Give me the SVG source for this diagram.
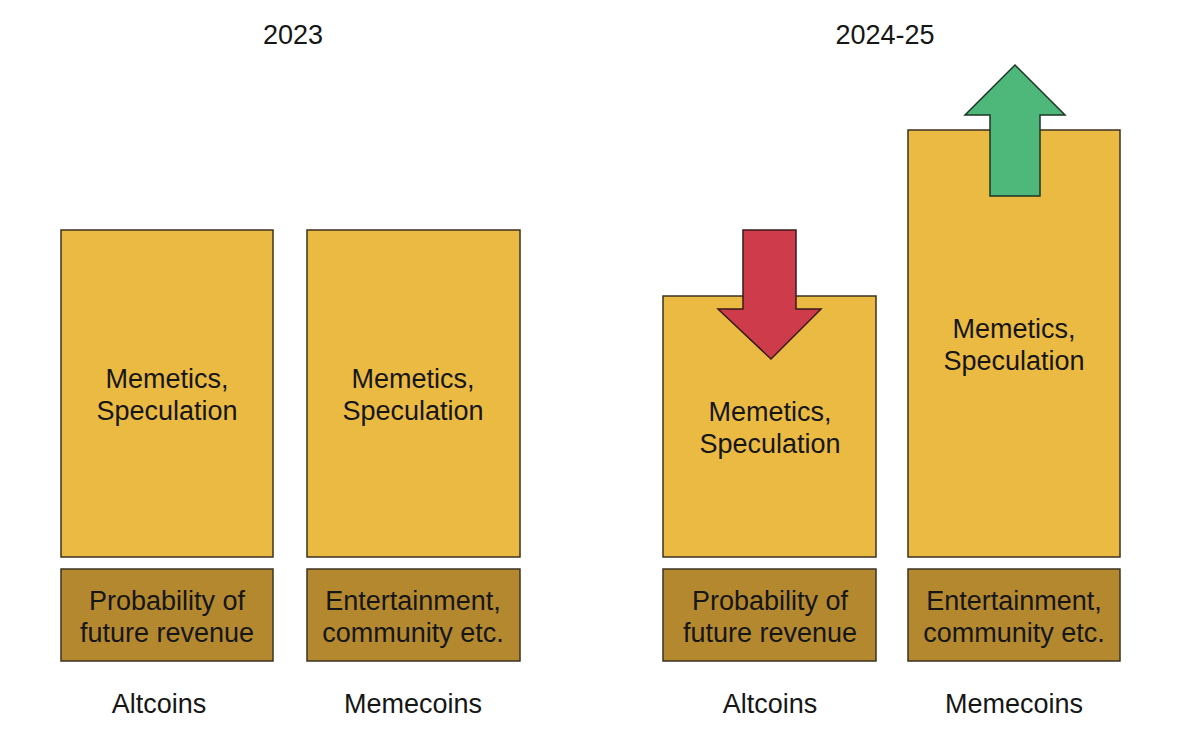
<svg xmlns="http://www.w3.org/2000/svg" width="1200" height="749" viewBox="0 0 1200 749">
<style>
.top{fill:#EBBA43;stroke:#3d3220;stroke-width:1.5}
.bot{fill:#B4882F;stroke:#3d3220;stroke-width:1.5}
text{font-family:"Liberation Sans",Arial,sans-serif;fill:#161616;text-anchor:middle}
.lbl{font-size:27px}
.hd{font-size:27px}
.red{fill:#CE3B4B;stroke:#3a1a1a;stroke-width:1.5;stroke-linejoin:miter}
.green{fill:#4DB879;stroke:#1d3524;stroke-width:1.5}
</style>
<rect width="1200" height="749" fill="#ffffff"/>
<text class="hd" x="293" y="44">2023</text>
<text class="hd" x="885" y="44">2024-25</text>
<g id="alt2023">
<rect class="top" x="61" y="230" width="212" height="327"/>
<text class="lbl" x="167" y="388">Memetics,</text>
<text class="lbl" x="167" y="420">Speculation</text>
<rect class="bot" x="61" y="569" width="212" height="92"/>
<text class="lbl" x="167" y="610">Probability of</text>
<text class="lbl" x="167" y="642">future revenue</text>
<text class="lbl" x="159" y="713">Altcoins</text>
</g>
<g id="meme2023">
<rect class="top" x="307" y="230" width="213" height="327"/>
<text class="lbl" x="413" y="388">Memetics,</text>
<text class="lbl" x="413" y="420">Speculation</text>
<rect class="bot" x="307" y="569" width="213" height="92"/>
<text class="lbl" x="413" y="610">Entertainment,</text>
<text class="lbl" x="413" y="642">community etc.</text>
<text class="lbl" x="413" y="713">Memecoins</text>
</g>
<g id="alt2024">
<rect class="top" x="663" y="296" width="213" height="261"/>
<text class="lbl" x="770" y="421">Memetics,</text>
<text class="lbl" x="770" y="453">Speculation</text>
<rect class="bot" x="663" y="569" width="213" height="92"/>
<text class="lbl" x="770" y="610">Probability of</text>
<text class="lbl" x="770" y="642">future revenue</text>
<text class="lbl" x="770" y="713">Altcoins</text>
</g>
<g id="meme2024">
<rect class="top" x="908" y="130" width="212" height="427"/>
<text class="lbl" x="1014" y="338">Memetics,</text>
<text class="lbl" x="1014" y="370">Speculation</text>
<rect class="bot" x="908" y="569" width="212" height="92"/>
<text class="lbl" x="1014" y="610">Entertainment,</text>
<text class="lbl" x="1014" y="642">community etc.</text>
<text class="lbl" x="1014" y="713">Memecoins</text>
</g>
<g id="arrows">
<polygon class="red" points="743,230 796,230 796,309 821,309 771,359 718,309 743,309"/>
<polygon class="green" points="1015,65 1065,115 1040,115 1040,196 990,196 990,115 965,115"/>
</g>
</svg>
